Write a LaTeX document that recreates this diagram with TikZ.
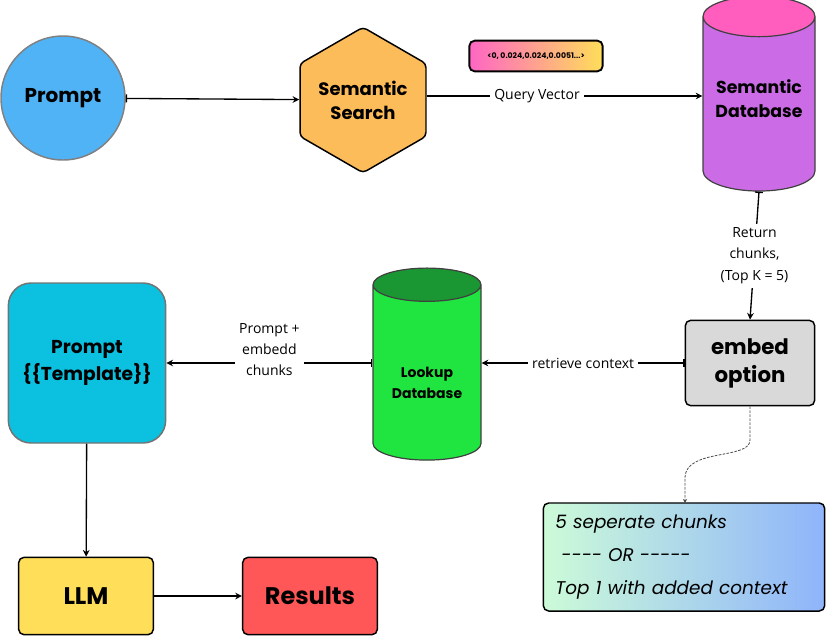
\documentclass[tikz,border=0pt]{standalone}
\usepackage{fontspec}
\setmainfont{Poppins}
\newfontfamily\lblfont{Open Sans}
\usetikzlibrary{arrows.meta, shapes.geometric}
\definecolor{promptblue}{HTML}{4FB3F6}
\definecolor{searchorange}{HTML}{FDBC5A}
\definecolor{dbpink}{HTML}{FF5EBF}
\definecolor{dbpurple}{HTML}{CB6BE6}
\definecolor{embedgray}{HTML}{D9D9D9}
\definecolor{lookdark}{HTML}{1A9632}
\definecolor{lookgreen}{HTML}{20E43F}
\definecolor{tplcyan}{HTML}{0CC0DF}
\definecolor{llmyellow}{HTML}{FFDE59}
\definecolor{resred}{HTML}{FF5757}
\definecolor{vecpink}{HTML}{FF66C4}
\definecolor{optgreen}{HTML}{CCFBD8}
\definecolor{optblue}{HTML}{8FB4FB}
\tikzset{
  title/.style={font=\bfseries, align=center, text=black},
  box/.style={title, draw=black, line width=1.1pt, rounded corners=4pt},
  db/.style={title, draw=black!75, line width=0.9pt, cylinder, shape border rotate=90,
    aspect=0.42, cylinder uses custom fill},
  lbl/.style={font=\lblfont\fontsize{10.5}{16}\selectfont, fill=white, align=center, inner sep=3pt},
  flow/.style={line width=1pt, -{Stealth[length=5pt,width=5pt]}},
  barflow/.style={line width=1pt, {Bar[width=6pt]}-{Stealth[length=5pt,width=5pt]}}
}
\begin{document}
\begin{tikzpicture}[x=0.75pt, y=-0.75pt]
  \useasboundingbox (0,0) rectangle (827,637);
  \node[title, circle, draw=black!50, line width=1.1pt, fill=promptblue, minimum size=93pt,
    font=\bfseries\fontsize{15}{18}\selectfont] (prompt) at (63,98) {Prompt};
  \node[title, regular polygon, regular polygon sides=6, shape border rotate=30, draw=black,
    line width=1.1pt, rounded corners=3pt, fill=searchorange, minimum size=109pt, inner sep=0pt,
    font=\bfseries\fontsize{13.5}{18}\selectfont] (search) at (363,100) {Semantic\\Search};
  \node[box, line width=1.4pt, left color=vecpink, right color=llmyellow, minimum width=100pt,
    minimum height=23pt, font=\bfseries\fontsize{5.8}{7}\selectfont] (vector) at (536,56)
    {<0, 0.024,0.024,0.0051...>};
  \node[db, cylinder end fill=dbpink, cylinder body fill=dbpurple, minimum width=84pt,
    minimum height=146pt, font=\bfseries\fontsize{13}{18}\selectfont] (semdb) at (759,108)
    {Semantic\\Database\\[-4pt]};
  \node[box, fill=embedgray, minimum width=97pt, minimum height=64pt,
    font=\bfseries\fontsize{16}{21}\selectfont] (embed) at (750,363) {embed\\option};
  \node[db, cylinder end fill=lookdark, cylinder body fill=lookgreen, minimum width=81pt,
    minimum height=144pt, font=\bfseries\fontsize{10.5}{16}\selectfont] (lookup) at (427,376)
    {\\[2pt]Lookup\\Database};
  \node[title, draw=black!55, line width=1.1pt, rounded corners=17pt, fill=tplcyan,
    minimum width=118pt, minimum height=120pt, font=\bfseries\fontsize{14}{20}\selectfont]
    (template) at (87,363) {Prompt\\\{\{Template\}\}};
  \node[box, fill=llmyellow, minimum width=101pt, minimum height=58pt,
    font=\bfseries\fontsize{18}{22}\selectfont] (llm) at (86,596) {LLM};
  \node[box, fill=resred, minimum width=101pt, minimum height=58pt,
    font=\bfseries\fontsize{18}{22}\selectfont] (results) at (310,596) {Results};
  \node[box, left color=optgreen, right color=optblue, minimum width=211pt, minimum height=81pt,
    text width=193pt, align=left, font=\itshape\fontsize{13.8}{25}\selectfont] (options) at (684,557)
    {5 seperate chunks\\\ -{}-{}-{}- OR -{}-{}-{}-{}-\\Top 1 with added context};
  \coordinate (bend) at (750,440);
  \draw[barflow] (prompt) -- (search);
  \draw[flow] (search.east |- 0,96) -- node[lbl, pos=0.4] {Query Vector} (semdb.west |- 0,96);
  \draw[barflow] (semdb.south) -- node[lbl] {Return\\chunks,\\(Top K = 5)} (embed.north);
  \draw[barflow] (embed) -- node[lbl] {retrieve context} (lookup.east |- embed);
  \draw[barflow] (lookup.west |- template) -- node[lbl, yshift=10pt] {Prompt +\\embedd\\chunks} (template);
  \draw[flow] (template) -- (llm);
  \draw[flow] (llm) -- (results);
  \draw[dashed, line width=0.6pt, dash pattern=on 2pt off 1pt, black!70, -{Stealth[length=3pt,width=3pt]}]
    (embed.south) -- (bend) .. controls (750,460) and (685,448) .. (685,478) -- (685,503);
\end{tikzpicture}
\end{document}
